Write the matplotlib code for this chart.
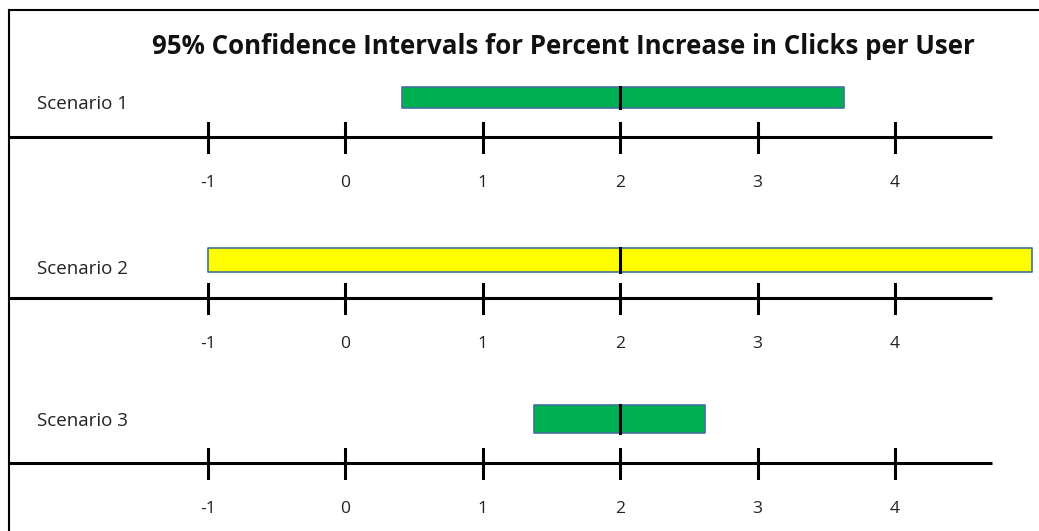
import matplotlib.pyplot as plt
from matplotlib.transforms import blended_transform_factory

scenarios = ["Scenario 1", "Scenario 2", "Scenario 3"]
lower = [0.41, -1.0, 1.37]
upper = [3.63, 5.0, 2.62]
center = [2.0, 2.0, 2.0]
colors = ["#00B050", "#FFFF00", "#00B050"]
ticks = [-1, 0, 1, 2, 3, 4]

# vertical layout in pixels from the top
W, H = 1039, 531
axis_y = [137, 298, 463]
bar_top = [87, 248, 405]
bar_bot = [108, 272, 433]
label_y = [104, 269, 421]

plt.rcParams["font.family"] = ["Open Sans", "DejaVu Sans"]

fig = plt.figure(figsize=(W / 100, H / 100), dpi=100)
ax = fig.add_axes([0, 0, 1, 1])

# -1 sits at x=208 px, 4 at x=895 px
px_per_unit = (895 - 208) / 5
ax.set_xlim(-1 - 208 / px_per_unit, -1 + (W - 208) / px_per_unit)
ax.set_ylim(H, 0)
ax.axis("off")

xfrac = blended_transform_factory(ax.transAxes, ax.transData)

for i, name in enumerate(scenarios):
    y0 = axis_y[i]
    # number line
    ax.plot([9 / W, 992 / W], [y0, y0], color="black", lw=2.2, transform=xfrac,
            solid_capstyle="butt")
    for t in ticks:
        ax.plot([t, t], [y0 - 14, y0 + 15], color="black", lw=2.2)
        ax.text(t, y0 + 46, str(t), ha="center", va="center", fontsize=12.5,
                color="#222222")
    # interval bar
    ax.fill_between([lower[i], upper[i]], bar_top[i], bar_bot[i],
                    facecolor=colors[i], edgecolor="#41719C", lw=1.2)
    ax.plot([center[i], center[i]], [bar_top[i], bar_bot[i]], color="black", lw=2.2)
    ax.text(37 / W, label_y[i], name, transform=xfrac, ha="left", va="center",
            fontsize=13.5, color="#222222")

ax.text(563 / W, 46, "95% Confidence Intervals for Percent Increase in Clicks per User",
        transform=xfrac, ha="center", va="center", fontsize=18.6, fontweight="bold",
        color="#111111")

# frame edges
ax.plot([9 / W, 9 / W], [10, H], color="black", lw=1.5, transform=xfrac)
ax.plot([9 / W, 1], [10, 10], color="black", lw=1.5, transform=xfrac)

fig.savefig("out.png", dpi=100)
